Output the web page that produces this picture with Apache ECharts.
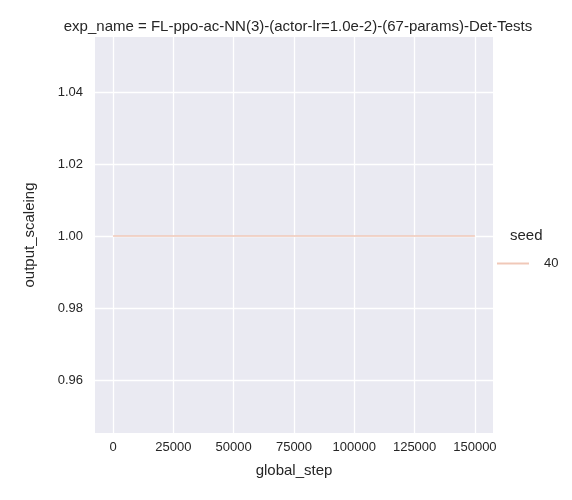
<!DOCTYPE html>
<html><head><meta charset="utf-8">
<script src="https://cdn.jsdelivr.net/npm/echarts@6/dist/echarts.min.js"></script>
<style>html,body{margin:0;padding:0;background:#fff}#c{width:572px;height:500px}</style>
</head><body><div id="c"></div>
<script>
var steps = [0, 25000, 50000, 75000, 100000, 125000, 150000];
var scaling = [1.0, 1.0, 1.0, 1.0, 1.0, 1.0, 1.0];
var xTicks = [0, 25000, 50000, 75000, 100000, 125000, 150000];
var yTicks = [0.96, 0.98, 1.00, 1.02, 1.04];

var chart = echarts.init(document.getElementById('c'));
var font = 'Liberation Sans';
chart.setOption({
    backgroundColor: '#fff',
    animation: false,
    textStyle: {fontFamily: font},
    title: {
        text: 'exp_name = FL-ppo-ac-NN(3)-(actor-lr=1.0e-2)-(67-params)-Det-Tests',
        left: 293, top: 14, textAlign: 'center',
        textStyle: {fontSize: 15, fontWeight: 'normal', color: '#262626', fontFamily: font}
    },
    graphic: [{type: 'text', left: 510, top: 228, style: {text: 'seed', fontSize: 15, fill: '#262626', fontFamily: font}}],
    legend: {
        left: 492, top: 252, itemWidth: 32, itemHeight: 2, icon: 'rect',
        textStyle: {fontSize: 13, color: '#262626', fontFamily: font, padding: [0, 0, 0, 10]},
        data: ['40']
    },
    grid: {left: 95, right: 79, top: 37, bottom: 67, backgroundColor: '#eaeaf2', show: true, borderWidth: 0},
    xAxis: {
        type: 'value', min: -7500, max: 157500,
        name: 'global_step', nameLocation: 'middle', nameGap: 30,
        nameTextStyle: {fontSize: 15, color: '#262626'},
        axisLine: {show: false}, axisTick: {show: false, customValues: xTicks},
        axisLabel: {customValues: xTicks, fontSize: 13, color: '#262626', margin: 8,
            formatter: function (v) { return String(v); }},
        splitLine: {show: true, lineStyle: {color: '#fff', width: 1.3}}
    },
    yAxis: {
        type: 'value', min: 0.9453, max: 1.0553,
        name: 'output_scaleing', nameLocation: 'middle', nameGap: 58,
        nameTextStyle: {fontSize: 15, color: '#262626'},
        axisLine: {show: false}, axisTick: {show: false, customValues: yTicks},
        axisLabel: {customValues: yTicks, fontSize: 13, color: '#262626', margin: 12,
            formatter: function (v) { return v.toFixed(2); }},
        splitLine: {show: true, lineStyle: {color: '#fff', width: 1.3}}
    },
    series: [{
        name: '40', type: 'line', showSymbol: false,
        data: steps.map(function (s, i) { return [s, scaling[i]]; }),
        lineStyle: {color: '#f0c8b8', width: 1.5}, itemStyle: {color: '#f0c8b8'}
    }]
});
</script></body></html>
